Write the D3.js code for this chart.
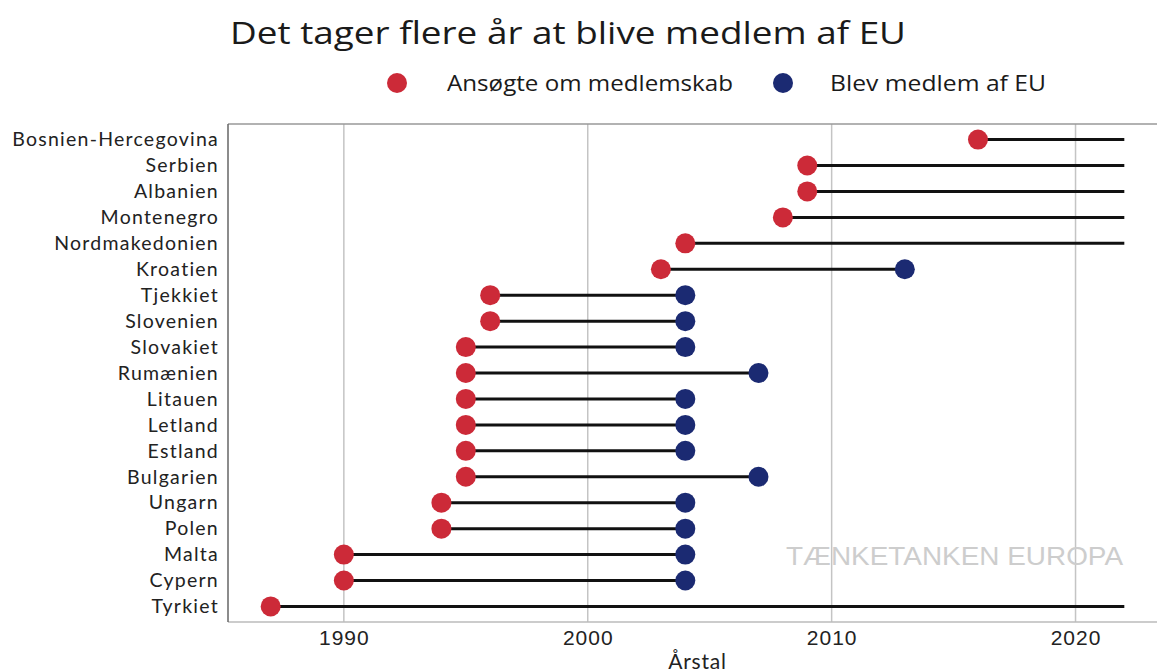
<!DOCTYPE html>
<html>
<head>
<meta charset="utf-8">
<script src="https://cdn.jsdelivr.net/npm/d3@7"></script>
<style>
  body { margin: 0; background: #fff; overflow: hidden; }
</style>
</head>
<body>
<script>
// Countries, top to bottom
var countries = ["Bosnien-Hercegovina", "Serbien", "Albanien", "Montenegro", "Nordmakedonien",
  "Kroatien", "Tjekkiet", "Slovenien", "Slovakiet", "Rumænien", "Litauen", "Letland",
  "Estland", "Bulgarien", "Ungarn", "Polen", "Malta", "Cypern", "Tyrkiet"];
// Year of application
var applied = [2016, 2009, 2009, 2008, 2004, 2003, 1996, 1996, 1995, 1995, 1995, 1995,
  1995, 1995, 1994, 1994, 1990, 1990, 1987];
// Year of membership (null = not a member yet)
var joined = [null, null, null, null, null, 2013, 2004, 2004, 2004, 2007, 2004, 2004,
  2004, 2007, 2004, 2004, 2004, 2004, null];
var lastYear = 2022;
var xTicks = [1990, 2000, 2010, 2020];

var width = 1157, height = 672;
var margins = { left: 228, right: -10, top: 124, bottom: 50 };
var red = "#cc2a38", navy = "#1b2a72";

var rows = countries.map(function(c, i) {
  return { country: c, applied: applied[i], joined: joined[i] };
});

var svg = d3.select("body").append("svg")
  .attr("width", width)
  .attr("height", height);

var x = d3.scaleLinear()
  .domain([1985.25, 2023.75])
  .range([margins.left, width - margins.right]);

var y = d3.scalePoint()
  .domain(countries)
  .range([margins.top, height - margins.bottom])
  .padding(0.6);

// title
svg.append("text")
  .attr("x", 230).attr("y", 44)
  .attr("font-family", "'Open Sans', sans-serif")
  .attr("font-size", 31)
  .attr("fill", "#1a1a1a")
  .attr("textLength", 676)
  .attr("lengthAdjust", "spacingAndGlyphs")
  .text("Det tager flere år at blive medlem af EU");

// legend
var legend = [
  { label: "Ansøgte om medlemskab", color: red, cx: 397, tx: 447, tw: 286 },
  { label: "Blev medlem af EU", color: navy, cx: 783, tx: 830, tw: 216 }
];
legend.forEach(function(l) {
  svg.append("circle").attr("cx", l.cx).attr("cy", 83).attr("r", 10).attr("fill", l.color);
  svg.append("text")
    .attr("x", l.tx).attr("y", 91)
    .attr("font-family", "'Open Sans', sans-serif")
    .attr("font-size", 21)
    .attr("fill", "#1a1a1a")
    .attr("textLength", l.tw)
    .attr("lengthAdjust", "spacingAndGlyphs")
    .text(l.label);
});

var plotBottom = height - margins.bottom;

// grid
svg.selectAll(".grid")
  .data(xTicks)
  .enter().append("line")
  .attr("x1", function(d) { return x(d); })
  .attr("x2", function(d) { return x(d); })
  .attr("y1", margins.top)
  .attr("y2", plotBottom)
  .attr("stroke", "#c4c4c4")
  .attr("stroke-width", 1.5);

// frame
svg.append("line").attr("x1", margins.left).attr("x2", width).attr("y1", margins.top).attr("y2", margins.top)
  .attr("stroke", "#999").attr("stroke-width", 1.5);
svg.append("line").attr("x1", margins.left).attr("x2", width).attr("y1", plotBottom).attr("y2", plotBottom)
  .attr("stroke", "#bbb").attr("stroke-width", 1.5);
svg.append("line").attr("x1", margins.left).attr("x2", margins.left).attr("y1", margins.top).attr("y2", plotBottom)
  .attr("stroke", "#666").attr("stroke-width", 1.5);

// watermark
svg.append("text")
  .attr("x", 786).attr("y", 565)
  .attr("font-family", "'Liberation Sans', Arial, sans-serif")
  .attr("font-size", 26)
  .attr("fill", "#cdcdcd")
  .attr("textLength", 337)
  .attr("lengthAdjust", "spacingAndGlyphs")
  .text("TÆNKETANKEN EUROPA");

// x axis tick labels
var xAxis = d3.axisBottom(x).tickValues(xTicks).tickFormat(d3.format("d")).tickSize(0).tickPadding(8);
var xg = svg.append("g").attr("transform", "translate(0," + plotBottom + ")").call(xAxis);
xg.select(".domain").remove();
xg.selectAll("text")
  .attr("font-family", "'Liberation Sans', Arial, sans-serif")
  .attr("font-size", 21)
  .attr("letter-spacing", 1)
  .attr("fill", "#222");

svg.append("text")
  .attr("x", x(2004.5)).attr("y", 669)
  .attr("text-anchor", "middle")
  .attr("font-family", "Lato, sans-serif")
  .attr("font-size", 21)
  .attr("letter-spacing", 0.8)
  .attr("fill", "#222")
  .text("Årstal");

// y axis labels
var yAxis = d3.axisLeft(y).tickSize(0).tickPadding(9);
var yg = svg.append("g").attr("transform", "translate(" + margins.left + ",0)").call(yAxis);
yg.select(".domain").remove();
yg.selectAll("text")
  .attr("font-family", "Lato, sans-serif")
  .attr("font-size", 19.5)
  .attr("letter-spacing", 1.25)
  .attr("fill", "#222");

// segments
svg.selectAll(".seg")
  .data(rows)
  .enter().append("line")
  .attr("x1", function(d) { return x(d.applied); })
  .attr("x2", function(d) { return x(d.joined === null ? lastYear : d.joined); })
  .attr("y1", function(d) { return y(d.country); })
  .attr("y2", function(d) { return y(d.country); })
  .attr("stroke", "#111")
  .attr("stroke-width", 3);

// applied dots
svg.selectAll(".app")
  .data(rows)
  .enter().append("circle")
  .attr("cx", function(d) { return x(d.applied); })
  .attr("cy", function(d) { return y(d.country); })
  .attr("r", 10)
  .attr("fill", red);

// joined dots
svg.selectAll(".join")
  .data(rows.filter(function(d) { return d.joined !== null; }))
  .enter().append("circle")
  .attr("cx", function(d) { return x(d.joined); })
  .attr("cy", function(d) { return y(d.country); })
  .attr("r", 10)
  .attr("fill", navy);
</script>
</body>
</html>
